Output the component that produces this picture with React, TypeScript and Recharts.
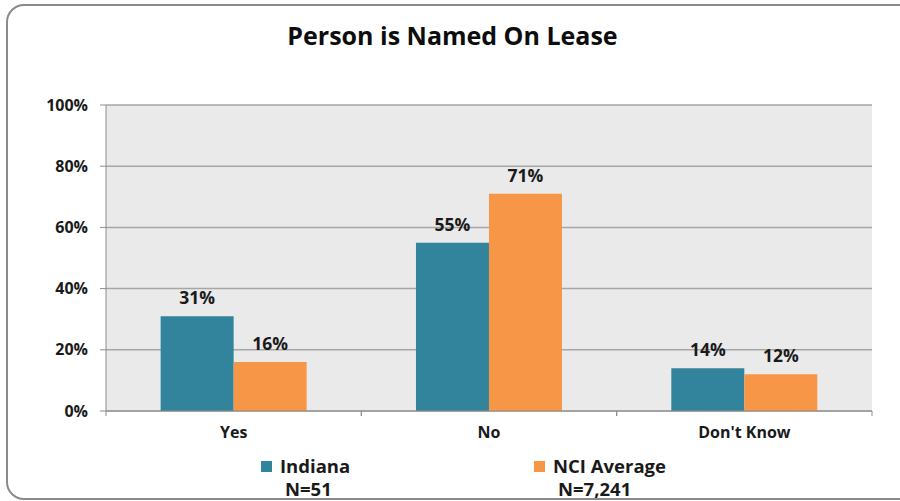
import React from "react";
import { BarChart, Bar, XAxis, YAxis, CartesianGrid, LabelList } from "recharts";

const categories = ["Yes", "No", "Don't Know"];
const indianaValues = [31, 55, 14];
const nciValues = [16, 71, 12];
const yTicks = [0, 20, 40, 60, 80, 100];
const seriesNames = ["Indiana", "NCI Average"];
const seriesN = ["N=51", "N=7,241"];
const title = "Person is Named On Lease";

const TEAL = "#31849B";
const ORANGE = "#F79646";
const FONT = "'Open Sans', sans-serif";

const data = categories.map((c, i) => ({
  name: c,
  indiana: indianaValues[i],
  nci: nciValues[i],
}));

const W = 900;
const H = 501;
const MARGIN = { top: 105, right: 28, bottom: 0, left: 0 };
const Y_W = 106;
const X_H = 90;
const BAND = (W - MARGIN.right - Y_W) / categories.length;

const XTick = (props: any) => {
  const { x, y, payload } = props;
  return (
    <g>
      <line x1={x - BAND / 2} x2={x - BAND / 2} y1={y} y2={y + 5} stroke="#8c8c8c" strokeWidth={1} />
      <line x1={x + BAND / 2} x2={x + BAND / 2} y1={y} y2={y + 5} stroke="#8c8c8c" strokeWidth={1} />
      <text
        x={x}
        y={y + 21}
        textAnchor="middle"
        dominantBaseline="central"
        fontFamily={FONT}
        fontWeight={700}
        fontSize={16}
        fill="#1a1a1a"
      >
        {payload.value}
      </text>
    </g>
  );
};

export default function App() {
  return (
    <div
      style={{
        position: "absolute",
        left: 0,
        top: 0,
        width: W,
        height: H,
        overflow: "hidden",
        background: "#fff",
      }}
    >
      <div
        style={{
          position: "absolute",
          left: 6,
          top: 4,
          width: 910,
          height: 496,
          border: "2px solid #8a8a8a",
          borderRadius: 18,
          boxSizing: "border-box",
        }}
      />
      <div
        style={{
          position: "absolute",
          left: 0,
          top: 17,
          width: 905,
          textAlign: "center",
          fontFamily: FONT,
          fontWeight: 700,
          fontSize: 25,
          color: "#0d0d0d",
          lineHeight: "36px",
        }}
      >
        {title}
      </div>
      <div style={{ position: "absolute", left: 0, top: 0 }}>
        <BarChart
          width={W}
          height={H}
          data={data}
          margin={MARGIN}
          barCategoryGap="21.4%"
          barGap={0}
        >
          <CartesianGrid
            vertical={false}
            fill="#EAEAEA"
            stroke="#a6a6a6"
            strokeWidth={1.5}
          />
          <XAxis
            dataKey="name"
            height={X_H}
            axisLine={{ stroke: "#8c8c8c" }}
            tickLine={false}
            tickSize={0}
            tickMargin={0}
            tick={<XTick />}
            interval={0}
          />
          <YAxis
            width={Y_W}
            domain={[0, 100]}
            ticks={yTicks}
            interval={0}
            tickFormatter={(v: number) => `${v}%`}
            axisLine={{ stroke: "#8c8c8c" }}
            tickLine={{ stroke: "#8c8c8c" }}
            tickSize={6}
            tickMargin={12}
            tick={{ fontFamily: FONT, fontWeight: 700, fontSize: 16, fill: "#1a1a1a" }}
          />
          <Bar dataKey="indiana" fill={TEAL} isAnimationActive={false}>
            <LabelList
              dataKey="indiana"
              position="top"
              offset={12}
              formatter={(v: any) => `${v}%`}
              style={{ fontFamily: FONT, fontWeight: 700, fontSize: 17.5, fill: "#1a1a1a" }}
            />
          </Bar>
          <Bar dataKey="nci" fill={ORANGE} isAnimationActive={false}>
            <LabelList
              dataKey="nci"
              position="top"
              offset={12}
              formatter={(v: any) => `${v}%`}
              style={{ fontFamily: FONT, fontWeight: 700, fontSize: 17.5, fill: "#1a1a1a" }}
            />
          </Bar>
        </BarChart>
      </div>
      {[
        { color: TEAL, left: 261, name: seriesNames[0], n: seriesN[0], nLeft: 285 },
        { color: ORANGE, left: 534, name: seriesNames[1], n: seriesN[1], nLeft: 558 },
      ].map((it) => (
        <React.Fragment key={it.name}>
          <div
            style={{
              position: "absolute",
              left: it.left,
              top: 461,
              width: 11,
              height: 11,
              background: it.color,
            }}
          />
          <div
            style={{
              position: "absolute",
              left: it.left + 19,
              top: 453,
              fontFamily: FONT,
              fontWeight: 700,
              fontSize: 18.5,
              lineHeight: "26px",
              color: "#1a1a1a",
              whiteSpace: "nowrap",
            }}
          >
            {it.name}
          </div>
          <div
            style={{
              position: "absolute",
              left: it.nLeft,
              top: 476,
              fontFamily: FONT,
              fontWeight: 700,
              fontSize: 18.5,
              lineHeight: "26px",
              color: "#1a1a1a",
              whiteSpace: "nowrap",
            }}
          >
            {it.n}
          </div>
        </React.Fragment>
      ))}
    </div>
  );
}
